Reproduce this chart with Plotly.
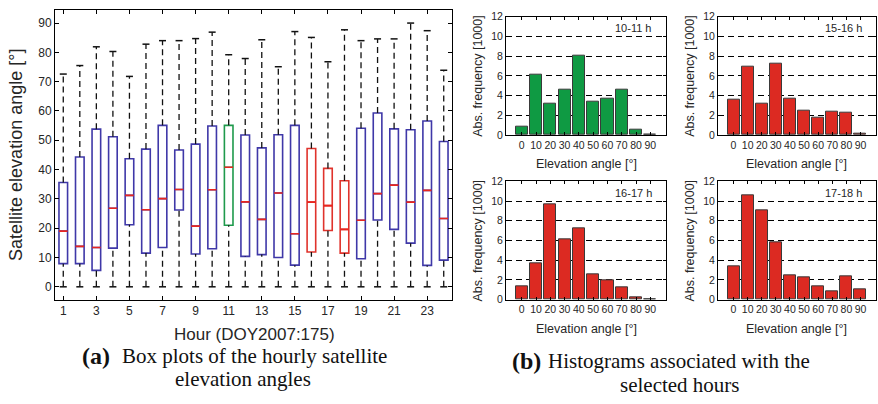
import plotly.graph_objects as go

W, H = 878, 404

# ---------------- hourly box plot data (elevation angle, degrees) ----------------
hours = [1, 2, 3, 4, 5, 6, 7, 8, 9, 10, 11, 12, 13, 14, 15, 16, 17, 18, 19, 20, 21, 22, 23, 24]
q1 = [7.9, 7.9, 5.6, 13.2, 21.2, 11.5, 13.4, 26.2, 11.2, 13.0, 21.0, 10.4,
      11.0, 10.0, 7.4, 11.9, 19.2, 11.5, 9.6, 22.8, 19.6, 14.9, 7.3, 9.1]
median = [19.0, 13.8, 13.4, 26.8, 31.2, 26.3, 30.1, 33.2, 20.7, 33.1, 40.8, 29.0,
          23.0, 32.0, 18.1, 28.9, 27.7, 19.6, 22.7, 31.8, 34.7, 28.9, 32.9, 23.3]
q3 = [35.6, 44.3, 53.8, 51.2, 43.7, 47.0, 55.1, 46.7, 48.7, 54.9, 55.1, 51.8,
      47.4, 51.9, 55.1, 47.2, 40.4, 36.2, 54.1, 59.3, 53.9, 53.6, 56.6, 49.6]
whisk_hi = [72.6, 75.5, 81.9, 80.3, 71.8, 82.8, 84.0, 84.0, 84.7, 86.9, 79.2, 77.9,
            84.3, 75.1, 87.1, 85.1, 76.8, 87.7, 84.0, 84.6, 84.6, 90.0, 87.4, 73.9]
whisk_lo = [0.0, 0.0, 0.0, 0.0, 0.0, 0.0, 0.0, 0.0, 0.0, 0.0, 0.0, 0.0,
            0.0, 0.0, 0.0, 0.0, 0.0, 0.0, 0.0, 0.0, 0.0, 0.0, 0.0, 0.0]
hour_group = ["blue"] * 10 + ["green"] + ["blue"] * 4 + ["red"] * 3 + ["blue"] * 6
hour_ticks = [1, 3, 5, 7, 9, 11, 13, 15, 17, 19, 21, 23]

# ---------------- histogram data (thousands of observations) ----------------
bins = [0, 10, 20, 30, 40, 50, 60, 70, 80, 90]
hist_10_11 = [0.82, 6.13, 3.21, 4.59, 8.00, 3.38, 3.67, 4.56, 0.56, 0.05]
hist_15_16 = [3.61, 6.92, 3.18, 7.21, 3.67, 2.43, 1.74, 2.39, 2.23, 0.16]
hist_16_17 = [1.31, 3.64, 9.67, 6.13, 7.21, 2.59, 1.93, 1.25, 0.20, 0.03]
hist_17_18 = [3.38, 10.62, 9.11, 5.77, 2.46, 2.23, 1.34, 0.82, 2.33, 1.05]
hist_labels = ["10-11 h", "15-16 h", "16-17 h", "17-18 h"]
freq_ticks = [0, 2, 4, 6, 8, 10, 12]

COLORS = {"blue": "#3f38a8", "green": "#1f9a4c", "red": "#e0332c"}
MEDIAN_RED = "#e8261f"
BAR_GREEN = "#0f9a43"
BAR_RED = "#dc2a22"
SANS = "Liberation Sans"
SERIF = "Liberation Serif"
TXT = "#262626"


def fx(px):
    return px / W


def fy(px):
    return 1 - px / H


fig = go.Figure()

# boxes (q1 / median / q3), one trace per colour group
for grp in ["blue", "green", "red"]:
    idx = [i for i, g in enumerate(hour_group) if g == grp]
    fig.add_trace(go.Box(
        x=[hours[i] for i in idx],
        q1=[q1[i] for i in idx],
        median=[median[i] for i in idx],
        q3=[q3[i] for i in idx],
        lowerfence=[q1[i] for i in idx],
        upperfence=[q3[i] for i in idx],
        width=0.52, whiskerwidth=0,
        line=dict(color=COLORS[grp], width=1.6),
        fillcolor="rgba(0,0,0,0)",
        boxpoints=False, hoverinfo="skip", showlegend=False,
        xaxis="x", yaxis="y",
    ))

# red median bars drawn as flat boxes
fig.add_trace(go.Box(
    x=hours, q1=median, median=median, q3=median,
    lowerfence=median, upperfence=median,
    width=0.52, whiskerwidth=0,
    line=dict(color=MEDIAN_RED, width=1.6),
    fillcolor="rgba(0,0,0,0)",
    boxpoints=False, hoverinfo="skip", showlegend=False,
    xaxis="x", yaxis="y",
))

# dashed whiskers
wx, wy = [], []
for h, lo, a, b, hi in zip(hours, whisk_lo, q1, q3, whisk_hi):
    wx += [h, h, None, h, h, None]
    wy += [b, hi, None, lo, a, None]
fig.add_trace(go.Scatter(
    x=wx, y=wy, mode="lines",
    line=dict(color="#111111", width=1.3, dash="6px,4px"),
    hoverinfo="skip", showlegend=False, xaxis="x", yaxis="y",
))
# whisker caps
fig.add_trace(go.Scatter(
    x=hours + hours, y=whisk_hi + whisk_lo, mode="markers",
    marker=dict(symbol="line-ew", size=5, line=dict(color="#111111", width=1.5)),
    hoverinfo="skip", showlegend=False, xaxis="x", yaxis="y",
))

# histograms
hist_sets = [hist_10_11, hist_15_16, hist_16_17, hist_17_18]
hist_colors = [BAR_GREEN, BAR_RED, BAR_RED, BAR_RED]
for k, (vals, col) in enumerate(zip(hist_sets, hist_colors)):
    n = k + 2
    fig.add_trace(go.Bar(
        x=bins, y=vals, width=8.5,
        marker=dict(color=col, line=dict(color="#3a3a3a", width=1)),
        hoverinfo="skip", showlegend=False,
        xaxis=f"x{n}", yaxis=f"y{n}",
    ))

axis_common = dict(
    showline=True, linecolor="black", linewidth=1, mirror="ticks",
    ticks="inside", tickcolor="black", zeroline=False,
    tickfont=dict(family=SANS, color=TXT),
)

layout = dict(
    width=W, height=H,
    margin=dict(l=0, r=0, t=0, b=0),
    paper_bgcolor="white", plot_bgcolor="white",
    boxmode="overlay", bargap=0,
    font=dict(family=SANS, color=TXT),
    xaxis=dict(axis_common, domain=[fx(55), fx(452)], range=[0.5, 24.5],
               tickvals=hour_ticks, ticklen=4, showgrid=False,
               tickfont=dict(family=SANS, color=TXT, size=12), anchor="y"),
    yaxis=dict(axis_common, domain=[fy(303), fy(4)], range=[-4.5, 94.5],
               tickvals=[0, 10, 20, 30, 40, 50, 60, 70, 80, 90], ticklen=4,
               showgrid=False, tickfont=dict(family=SANS, color=TXT, size=12),
               anchor="x"),
)

hist_x_dom = [[fx(506), fx(666)], [fx(718), fx(876)], [fx(506), fx(666)], [fx(718), fx(876)]]
hist_y_dom = [[fy(133), fy(11)], [fy(133), fy(11)], [fy(302.7), fy(180.7)], [fy(302.7), fy(180.7)]]
for k in range(4):
    n = k + 2
    layout[f"xaxis{n}"] = dict(
        axis_common, domain=hist_x_dom[k], range=[-11, 101], tickvals=bins,
        ticklen=3, showgrid=False, tickfont=dict(family=SANS, color=TXT, size=10.5),
        anchor=f"y{n}")
    layout[f"yaxis{n}"] = dict(
        axis_common, domain=hist_y_dom[k], range=[0, 12], tickvals=freq_ticks,
        ticklen=3, showgrid=True, gridcolor="black", gridwidth=1,
        griddash="6px,4px", tickfont=dict(family=SANS, color=TXT, size=10.5),
        anchor=f"x{n}")

fig.update_layout(**layout)

ann = []
# left panel titles
ann.append(dict(x=fx(16), y=fy(153.5), text="Satellite elevation angle [°]", textangle=-90,
                font=dict(family=SANS, size=18, color=TXT)))
ann.append(dict(x=fx(254), y=fy(339), text="Hour (DOY2007:175)",
                font=dict(family=SANS, size=17, color=TXT)))
# histogram titles and labels
for k in range(4):
    x0, x1 = hist_x_dom[k]
    y0, y1 = hist_y_dom[k]
    ann.append(dict(x=x0 - fx(28), y=(y0 + y1) / 2, text="Abs. frequency [1000]",
                    textangle=-90, font=dict(family=SANS, size=12.5, color=TXT)))
    ann.append(dict(x=(x0 + x1) / 2, y=y0 - 30 / H, text="Elevation angle [°]",
                    font=dict(family=SANS, size=12.5, color=TXT)))
    ann.append(dict(x=x1 - 12 / W, y=y1 - 12 / H, text=hist_labels[k], xanchor="right",
                    font=dict(family=SANS, size=11, color=TXT)))
# captions
ann.append(dict(x=fx(96), y=fy(361), text="<b>(a)</b>",
                font=dict(family=SERIF, size=24, color="#111111")))
ann.append(dict(x=fx(120), y=fy(361), text="Box plots of the hourly satellite", xanchor="left",
                font=dict(family=SERIF, size=21, color="#111111")))
ann.append(dict(x=fx(243), y=fy(384), text="elevation angles",
                font=dict(family=SERIF, size=21, color="#111111")))
ann.append(dict(x=fx(526), y=fy(366), text="<b>(b)</b>",
                font=dict(family=SERIF, size=24, color="#111111")))
ann.append(dict(x=fx(546), y=fy(366), text="Histograms associated with the", xanchor="left",
                font=dict(family=SERIF, size=21, color="#111111")))
ann.append(dict(x=fx(680), y=fy(391), text="selected hours",
                font=dict(family=SERIF, size=21, color="#111111")))

for a in ann:
    a.setdefault("xanchor", "center")
    a.update(xref="paper", yref="paper", yanchor="middle", showarrow=False)

fig.update_layout(annotations=ann)
fig.write_html("out.html")
